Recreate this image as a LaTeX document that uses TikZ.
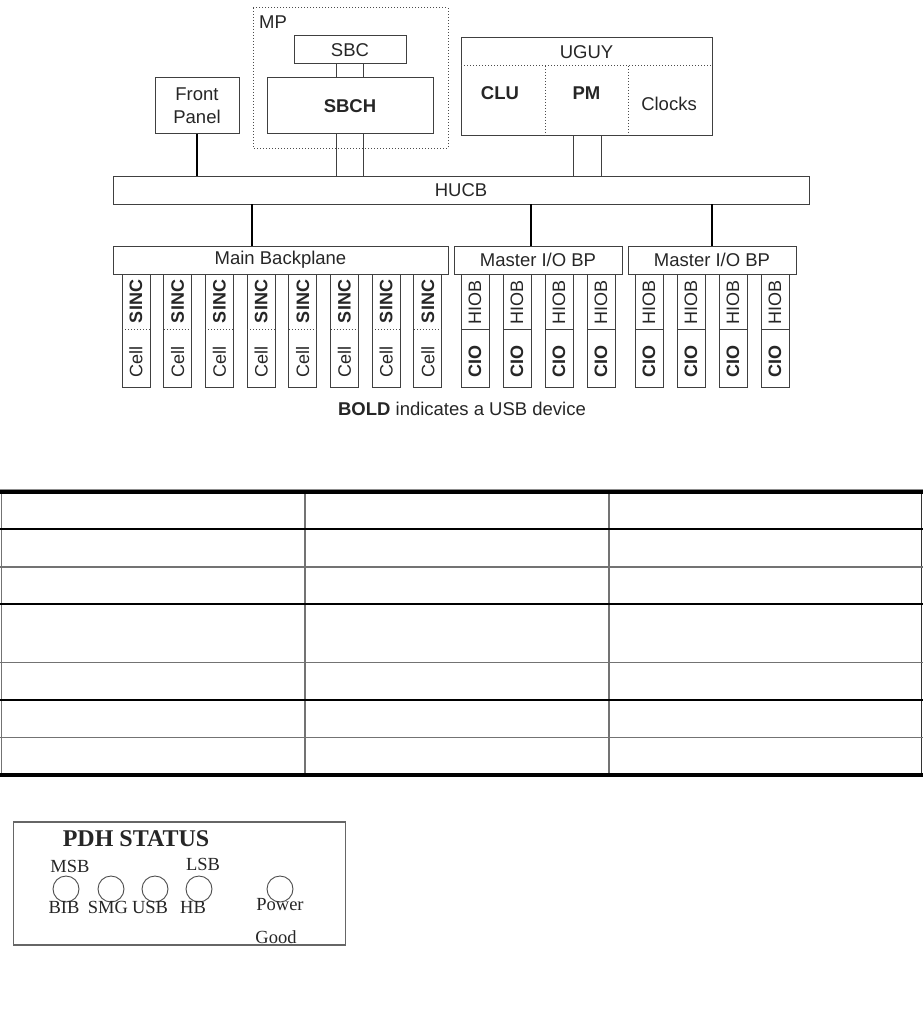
\documentclass[tikz,border=0pt]{standalone}
\usepackage{fontspec}
\setmainfont{Liberation Sans}
\newfontfamily\tnr{Liberation Serif}
\begin{document}
\begin{tikzpicture}[x=1pt,y=-1pt,
 box/.style={draw=black!75, line width=1pt, inner sep=0pt, outer sep=0pt, rectangle, text=black!85, font=\fontsize{18.5}{21}\selectfont, align=center},
 card/.style={box, minimum width=28pt, minimum height=113pt, anchor=north west},
 rot/.style={rotate=90, inner sep=0pt, text=black!85, font=\fontsize{18}{20}\selectfont},
 rotb/.style={rot, font=\fontsize{18}{20}\selectfont\bfseries},
 lbl/.style={inner sep=0pt, text=black!85, font=\fontsize{18.5}{21}\selectfont},
 lblb/.style={lbl, font=\fontsize{18.5}{21}\selectfont\bfseries},
 bus/.style={line width=2.8pt, black},
 link/.style={draw=black!75, line width=1pt},
 sep/.style={draw=black!70, line width=1pt, dotted},
 tline/.style={line width=1.2pt},
 pdh/.style={inner sep=0pt, text=black!85, font=\tnr\fontsize{18.5}{20}\selectfont},
 led/.style={circle, draw=black!70, line width=0.9pt, minimum size=26pt, inner sep=0pt},
]
\useasboundingbox (0,0) rectangle (923,1014);

% ---------- top block diagram ----------
\node[minimum width=195pt, minimum height=140pt, inner sep=0pt, outer sep=0pt] (MPbg) at (350.5,78) {};
\draw[sep] (MPbg.north west) rectangle (MPbg.south east);
\node[lbl, anchor=west] (MP) at (259,22) {MP};
\node[box, minimum width=112pt, minimum height=28pt] (SBC) at (350,50) {SBC};
\node[box, minimum width=166pt, minimum height=56pt, font=\fontsize{18.5}{21}\selectfont\bfseries] (SBCH) at (350,106) {SBCH};
\node[box, minimum width=84pt, minimum height=56pt, font=\fontsize{18.5}{23}\selectfont] (FP) at (197,106) {Front\\Panel};
\node[box, minimum width=696pt, minimum height=28pt] (HUCB) at (461,190) {HUCB};

% UGUY
\node[box, minimum width=251pt, minimum height=98pt] (UGUY) at (586.5,87) {};
\coordinate (ug1) at (461,66);
\coordinate (ugA) at (545,66);
\coordinate (ugB) at (628,66);
\draw[sep] (UGUY.west |- ug1) -- (UGUY.east |- ug1);
\draw[sep] (ugA) -- (ugA |- UGUY.south);
\draw[sep] (ugB) -- (ugB |- UGUY.south);
\node[lbl] (UGt) at (586.5,52) {UGUY};
\node[lblb] (CLU) at (500,93) {CLU};
\node[lblb] (PM) at (586.5,93) {PM};
\node[lbl] (CLK) at (669,104) {Clocks};

% double links
\draw[link] ([xshift=-13.5pt]SBC.south) -- ([xshift=-13.5pt]SBC.south |- SBCH.north);
\draw[link] ([xshift=13.5pt]SBC.south) -- ([xshift=13.5pt]SBC.south |- SBCH.north);
\draw[link] ([xshift=-13.5pt]SBCH.south) -- ([xshift=-13.5pt]SBCH.south |- HUCB.north);
\draw[link] ([xshift=13.5pt]SBCH.south) -- ([xshift=13.5pt]SBCH.south |- HUCB.north);
\coordinate (ul) at (573,136);
\coordinate (ur) at (601,136);
\draw[link] (ul) -- (ul |- HUCB.north);
\draw[link] (ur) -- (ur |- HUCB.north);

% backplanes
\node[box, minimum width=335pt, minimum height=28pt] (MBP) at (280.5,260) {Main Backplane};
\node[box, minimum width=168pt, minimum height=28pt] (IO1) at (538,260) {Master I/O BP};
\node[box, minimum width=168pt, minimum height=28pt] (IO2) at (712,260) {Master I/O BP};

% thick buses
\draw[bus] (FP.south) -- (FP.south |- HUCB.north);
\coordinate (b1) at (252,204);
\coordinate (b2) at (531,204);
\coordinate (b3) at (712,204);
\draw[bus] (b1) -- (b1 |- MBP.north);
\draw[bus] (b2) -- (b2 |- IO1.north);
\draw[bus] (b3) -- (b3 |- IO2.north);

% cards
\coordinate (dv) at (0,329);
\foreach \i in {0,...,7} {
  \pgfmathsetmacro\xl{122+41.7*\i}
  \node[card] (s\i) at (\xl,274) {};
  \draw[sep] (s\i.west |- dv) -- (s\i.east |- dv);
  \node[rotb] at (\xl+14,301.5) {SINC};
  \node[rot] at (\xl+14,362) {Cell};
}
\foreach \xl [count=\i] in {461,503,545,587,635,677,719,761} {
  \node[card] (h\i) at (\xl,274) {};
  \draw[link] (h\i.west |- dv) -- (h\i.east |- dv);
  \node[rot] at (\xl+14,302) {HIOB};
  \node[rotb] at (\xl+14,361) {CIO};
}

\node[lbl] (note) at (462,409) {\textbf{BOLD} indicates a USB device};

% ---------- table ----------
\draw[black!55, tline] (1.5,492) -- (1.5,775);
\draw[black!55, tline] (305,492) -- (305,775);
\draw[black!55, tline] (609,492) -- (609,775);
\draw[black!80, tline] (921.5,492) -- (921.5,775);
\draw[black!45, line width=0.8pt] (0,489) -- (923,489);
\draw[black, line width=4pt] (0,492) -- (923,492);
\draw[black, line width=2.2pt] (0,529) -- (923,529);
\draw[black!55, tline] (0,567) -- (923,567);
\draw[black, tline] (0,604) -- (923,604);
\draw[black!55, tline] (0,662.5) -- (923,662.5);
\draw[black, tline] (0,700) -- (923,700);
\draw[black!55, tline] (0,737.5) -- (923,737.5);
\draw[black, line width=4pt] (0,775) -- (923,775);

% ---------- PDH status panel ----------
\node[draw=black!60, line width=1.5pt, minimum width=332pt, minimum height=123pt, inner sep=0pt] (panel) at (179.5,883.5) {};
\node[pdh, font=\tnr\bfseries\fontsize{24}{26}\selectfont] (pdht) at (136,839) {PDH STATUS};
\node[pdh] (msb) at (70,866) {MSB};
\node[pdh] (lsb) at (203,864) {LSB};
\node[led] (l1) at (66,889) {};
\node[led] (l2) at (111,889) {};
\node[led] (l3) at (155,889) {};
\node[led] (l4) at (199,889) {};
\node[led] (l5) at (280,889) {};
\node[pdh] (bib) at (64,907) {BIB};
\node[pdh] (smg) at (108,907) {SMG};
\node[pdh] (usb) at (150,907) {USB};
\node[pdh] (hb) at (193,907) {HB};
\node[pdh] (pw) at (280,905) {Power};
\node[pdh] (gd) at (276,937) {Good};
\end{tikzpicture}
\end{document}
